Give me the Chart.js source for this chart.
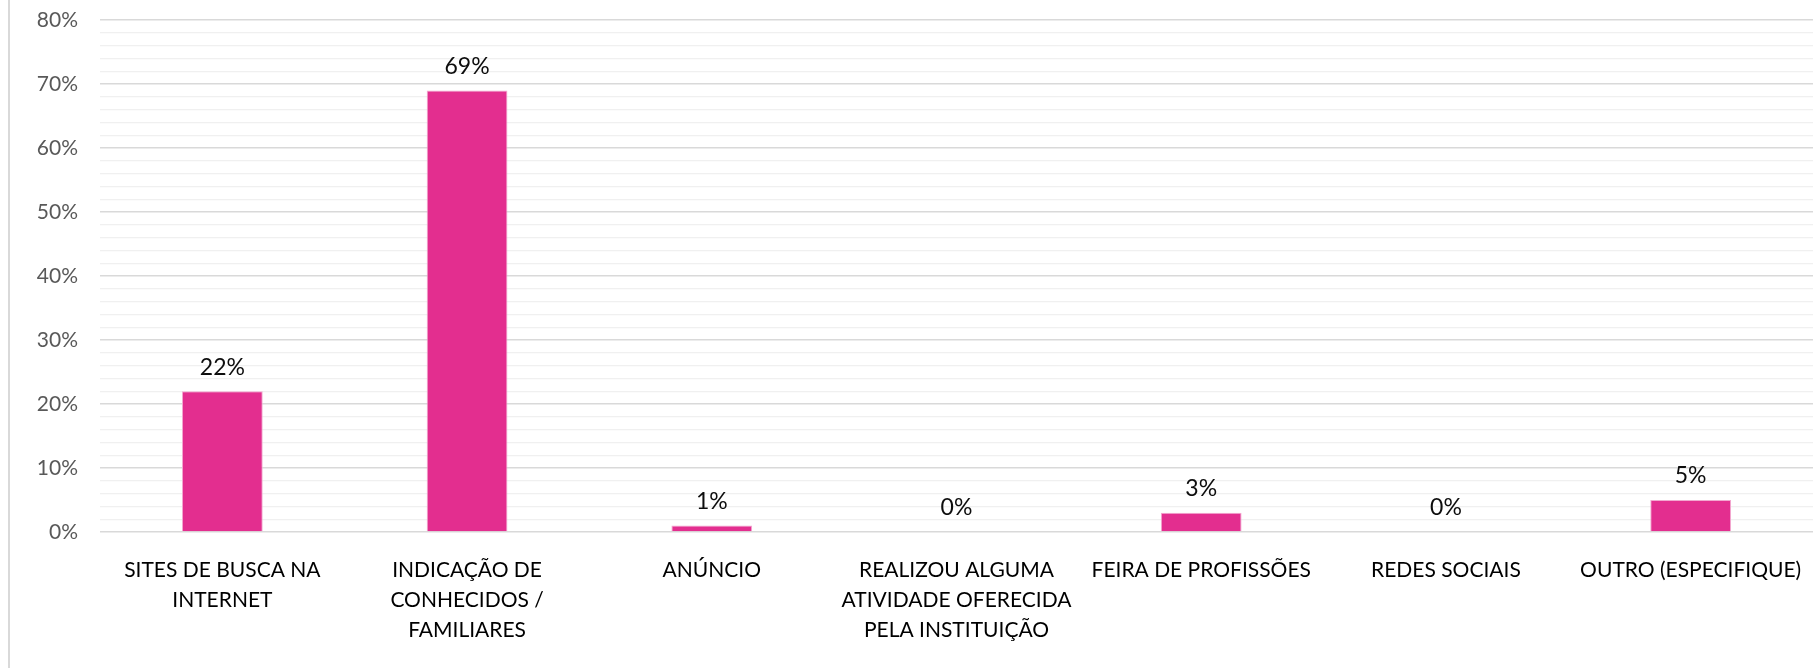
<!DOCTYPE html>
<html>
<head>
<meta charset="utf-8">
<script src="https://cdn.jsdelivr.net/npm/chart.js@4/dist/chart.umd.min.js"></script>
<style>
  html, body { margin: 0; padding: 0; background: #fff; }
  #wrap { position: relative; width: 1818px; height: 668px; }
  #frame { position: absolute; left: 8px; top: 0; width: 0; height: 668px; border-left: 2px solid #d9d9d9; }
  canvas { display: block; }
</style>
</head>
<body>
<div id="wrap">
  <div id="frame"></div>
  <canvas id="myChart" width="1818" height="668"></canvas>
</div>
<script>
// categorias (eixo x)
const categories = [
  ['SITES DE BUSCA NA', 'INTERNET'],
  ['INDICAÇÃO DE', 'CONHECIDOS /', 'FAMILIARES'],
  'ANÚNCIO',
  ['REALIZOU ALGUMA', 'ATIVIDADE OFERECIDA', 'PELA INSTITUIÇÃO'],
  'FEIRA DE PROFISSÕES',
  'REDES SOCIAIS',
  'OUTRO (ESPECIFIQUE)'
];
// valores em %
const values = [22, 69, 1, 0, 3, 0, 5];
const yMax = 80;
const yMajorStep = 10;
const yMinorStep = 2;

const FONT = 'Lato, "Open Sans", sans-serif';

// rótulos de dados acima das barras
const valueLabels = {
  id: 'valueLabels',
  afterDatasetsDraw(chart) {
    const ctx = chart.ctx;
    const meta = chart.getDatasetMeta(0);
    ctx.save();
    ctx.font = '23px ' + FONT;
    ctx.fillStyle = '#0d0d0d';
    ctx.textAlign = 'center';
    ctx.textBaseline = 'middle';
    meta.data.forEach((bar, i) => {
      ctx.fillText(values[i] + '%', bar.x, bar.y - 24);
    });
    ctx.restore();
  }
};

const ctx = document.getElementById('myChart').getContext('2d');
new Chart(ctx, {
  type: 'bar',
  data: {
    labels: categories,
    datasets: [{
      data: values,
      backgroundColor: '#e32e8f',
      borderColor: '#f2a9d0',
      borderWidth: 1,
      barPercentage: 0.66,
      categoryPercentage: 0.5
    }]
  },
  options: {
    responsive: false,
    animation: false,
    layout: { padding: { top: 20, right: 5, left: 0, bottom: 0 } },
    plugins: {
      legend: { display: false },
      tooltip: { enabled: false }
    },
    scales: {
      x: {
        grid: { display: false },
        border: { display: false },
        ticks: {
          color: '#000',
          font: { family: FONT, size: 21, lineHeight: 1.43 },
          padding: 15,
          maxRotation: 0,
          autoSkip: false
        },
        afterFit(scale) { scale.height = 136; }
      },
      y: {
        min: 0,
        max: yMax,
        border: { display: false },
        grid: {
          drawTicks: false,
          color: c => (c.tick.value % yMajorStep === 0 ? '#d9d9d9' : '#f0f0f0'),
          lineWidth: c => (c.tick.value % yMajorStep === 0 ? 1.5 : 1.2)
        },
        ticks: {
          stepSize: yMinorStep,
          autoSkip: false,
          color: '#595959',
          font: { family: FONT, size: 21 },
          padding: 22,
          callback: v => (v % yMajorStep === 0 ? v + '%' : '')
        },
        afterFit(scale) {
          scale.width = 100;
          scale.paddingTop = 0;
          scale.paddingBottom = 0;
        }
      }
    }
  },
  plugins: [valueLabels]
});
</script>
</body>
</html>
